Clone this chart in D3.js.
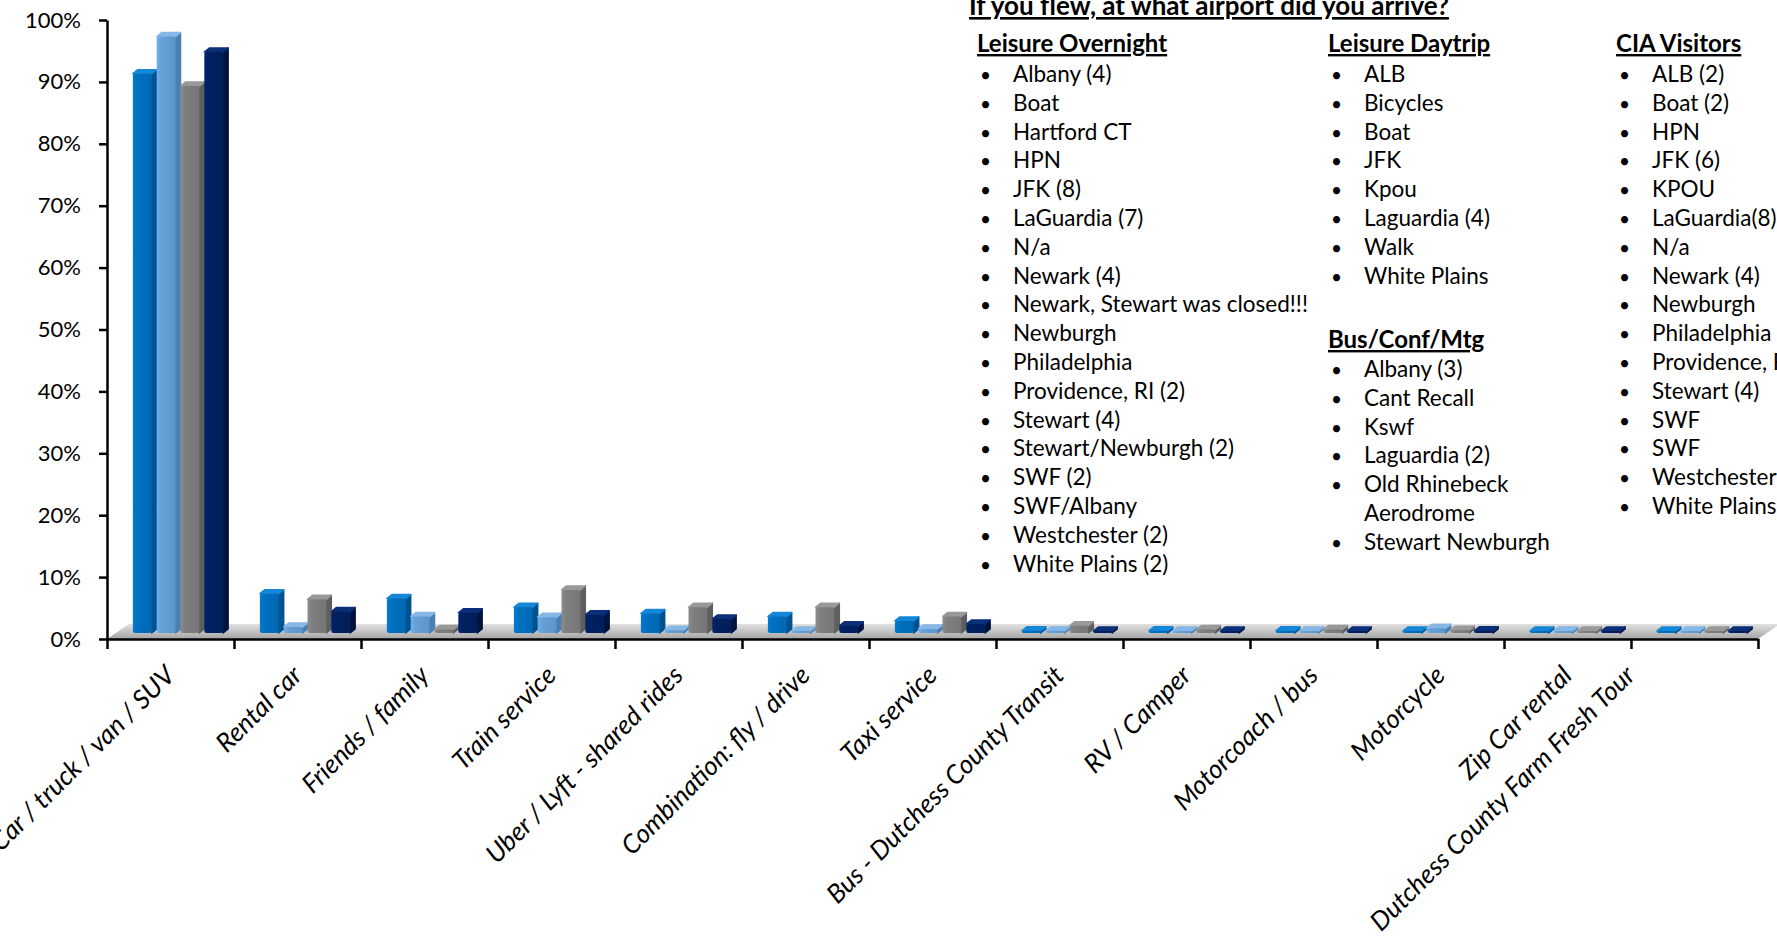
<!DOCTYPE html>
<html>
<head>
<meta charset="utf-8">
<script src="https://cdn.jsdelivr.net/npm/d3@7"></script>
<style>
  body { margin: 0; background: #fff; }
  svg { display: block; overflow: hidden; }
  .axis text { font-family: Lato, "Noto Sans", sans-serif; font-size: 22px; fill: #000; }
  .axis path, .axis line { stroke: #000; stroke-width: 2.5px; }
  .cat-label { font-family: Lato, "Noto Sans", sans-serif; font-size: 26px; font-style: italic; fill: #000; }
  .panel text { font-family: Lato, "Noto Sans", sans-serif; fill: #000; }
</style>
</head>
<body>
<div id="chart"></div>
<script>
// Step 1: data
// =================================
var categories = ["Car / truck / van / SUV", "Rental car", "Friends / family", "Train service",
  "Uber / Lyft - shared rides", "Combination: fly / drive", "Taxi service",
  "Bus - Dutchess County Transit", "RV / Camper", "Motorcoach / bus", "Motorcycle",
  "Zip Car rental", "Dutchess County Farm Fresh Tour"];

var seriesNames = ["Leisure Overnight", "Leisure Daytrip", "Bus/Conf/Mtg", "CIA Visitors"];

var leisureOvernight = [91, 7.0, 6.2, 4.8, 3.8, 3.3, 2.6, 1.0, 1.0, 1.0, 0.6, 0.5, 0.5];
var leisureDaytrip   = [97, 1.6, 3.3, 3.2, 1.1, 0.9, 1.3, 1.0, 0.6, 0.6, 1.4, 0.6, 0.7];
var busConfMtg       = [89, 6.1, 1.2, 7.6, 4.8, 4.8, 3.3, 1.8, 1.2, 1.2, 1.1, 0.3, 0.3];
var ciaVisitors      = [94.5, 4.1, 3.9, 3.6, 2.9, 1.8, 2.1, 0.9, 0.5, 0.5, 1.0, 0.4, 0.4];

var yTicks = [0, 10, 20, 30, 40, 50, 60, 70, 80, 90, 100];

// text panel lists
var panelTitle = "If you flew, at what airport did you arrive?";
var overnightList = ["Albany (4)", "Boat", "Hartford CT", "HPN", "JFK (8)", "LaGuardia (7)", "N/a",
  "Newark (4)", "Newark, Stewart was closed!!!", "Newburgh", "Philadelphia", "Providence, RI (2)",
  "Stewart (4)", "Stewart/Newburgh (2)", "SWF (2)", "SWF/Albany", "Westchester (2)", "White Plains (2)"];
var daytripList = ["ALB", "Bicycles", "Boat", "JFK", "Kpou", "Laguardia (4)", "Walk", "White Plains"];
var busList = ["Albany (3)", "Cant Recall", "Kswf", "Laguardia (2)", "Old Rhinebeck|Aerodrome", "Stewart Newburgh"];
var ciaList = ["ALB (2)", "Boat (2)", "HPN", "JFK (6)", "KPOU", "LaGuardia(8)", "N/a", "Newark (4)",
  "Newburgh", "Philadelphia", "Providence, RI", "Stewart (4)", "SWF", "SWF", "Westchester", "White Plains"];

var seriesValues = [leisureOvernight, leisureDaytrip, busConfMtg, ciaVisitors];
var colors = {
  front: ["#0070c0", "#65a0d8", "#7f7f7f", "#002060"],
  side:  ["#00538f", "#4a7fb3", "#5f5f5f", "#00123d"],
  top:   ["#1487d8", "#86b7e6", "#999999", "#0c2f7a"]
};

// Step 2: chart setup
// =================================
var svgWidth = 1777;
var svgHeight = 936;
var margin = { top: 20, left: 107, bottom: 297 };
var plotRight = 1758;
var height = svgHeight - margin.top - margin.bottom;

var svg = d3.select("#chart").append("svg")
  .attr("width", svgWidth)
  .attr("height", svgHeight);

var defs = svg.append("defs");
var floorGrad = defs.append("linearGradient").attr("id", "floorGrad")
  .attr("x1", 0).attr("y1", 0).attr("x2", 0).attr("y2", 1);
floorGrad.append("stop").attr("offset", "0%").attr("stop-color", "#e2e2e2");
floorGrad.append("stop").attr("offset", "100%").attr("stop-color", "#a4a4a4");

seriesNames.forEach(function (s, i) {
  var g = defs.append("linearGradient").attr("id", "front" + i)
    .attr("x1", 0).attr("y1", 0).attr("x2", 1).attr("y2", 0);
  g.append("stop").attr("offset", "0%").attr("stop-color", d3.color(colors.front[i]).brighter(0.25));
  g.append("stop").attr("offset", "25%").attr("stop-color", colors.front[i]);
  g.append("stop").attr("offset", "100%").attr("stop-color", d3.color(colors.front[i]).darker(0.2));
});

// Step 3: scales
// =================================
var yScale = d3.scaleLinear().domain([0, 100]).range([margin.top + height, margin.top]);
var xScale = d3.scaleBand().domain(categories)
  .range([margin.left, plotRight])
  .paddingInner(0.25).paddingOuter(0.125);
var xSeries = d3.scaleBand().domain(seriesNames).range([0, xScale.bandwidth()]);
var xBounds = d3.scaleLinear().domain([0, categories.length]).range([margin.left, plotRight]);

var y0 = yScale(0);

// floor of the 3d plot
var depth = { dx: 22, dy: -15 };
svg.append("polygon")
  .attr("points", [
    [xBounds(0), y0], [xBounds(categories.length), y0],
    [xBounds(categories.length) + depth.dx, y0 + depth.dy], [xBounds(0) + depth.dx, y0 + depth.dy]
  ].map(function (p) { return p.join(","); }).join(" "))
  .attr("fill", "url(#floorGrad)");

// Step 4: bars
// =================================
var shiftX = 10, baseY = y0 - 6, capDx = 5, capDy = -4;
var barData = [];
categories.forEach(function (c, ci) {
  seriesNames.forEach(function (s, si) {
    barData.push({ cat: c, series: s, si: si, value: seriesValues[si][ci] });
  });
});

var bars = svg.append("g").selectAll("g.bar")
  .data(barData)
  .enter().append("g").attr("class", "bar");

function barGeom(d) {
  var x = xScale(d.cat) + xSeries(d.series) + shiftX;
  var wf = xSeries.bandwidth() - capDx;
  var top = Math.min(yScale(d.value) - 2, baseY - 2);
  return { x: x, wf: wf, top: top };
}

// side face
bars.append("polygon")
  .attr("points", function (d) {
    var g = barGeom(d);
    return [[g.x + g.wf, g.top], [g.x + g.wf + capDx, g.top + capDy],
      [g.x + g.wf + capDx, baseY + capDy], [g.x + g.wf, baseY]].join(" ");
  })
  .attr("fill", function (d) { return colors.side[d.si]; })
  .attr("stroke", function (d) { return colors.side[d.si]; })
  .attr("stroke-width", 1.5)
  .attr("stroke-linejoin", "round");

// top face
bars.append("polygon")
  .attr("points", function (d) {
    var g = barGeom(d);
    return [[g.x, g.top], [g.x + capDx, g.top + capDy],
      [g.x + g.wf + capDx, g.top + capDy], [g.x + g.wf, g.top]].join(" ");
  })
  .attr("fill", function (d) { return colors.top[d.si]; })
  .attr("stroke", function (d) { return colors.top[d.si]; })
  .attr("stroke-width", 1.5)
  .attr("stroke-linejoin", "round");

// front face
bars.append("rect")
  .attr("x", function (d) { return barGeom(d).x; })
  .attr("y", function (d) { return barGeom(d).top; })
  .attr("width", function (d) { return barGeom(d).wf; })
  .attr("height", function (d) { var g = barGeom(d); return Math.max(baseY - g.top, 1); })
  .attr("rx", 2)
  .attr("fill", function (d) { return "url(#front" + d.si + ")"; });

// Step 5: axes
// =================================
var leftAxis = d3.axisLeft(yScale)
  .tickValues(yTicks)
  .tickFormat(function (d) { return d + "%"; })
  .tickSize(8).tickSizeOuter(0).tickPadding(18);

svg.append("g")
  .attr("class", "axis")
  .attr("transform", "translate(" + margin.left + ",0)")
  .call(leftAxis);

var bottomAxis = d3.axisBottom(xBounds)
  .tickValues(d3.range(categories.length + 1))
  .tickFormat("")
  .tickSize(10).tickSizeOuter(0);

svg.append("g")
  .attr("class", "axis")
  .attr("transform", "translate(0," + y0 + ")")
  .call(bottomAxis);

// rotated category labels (the last, long one is pulled left as in the original)
svg.append("g").selectAll("text")
  .data(categories)
  .enter().append("text")
  .attr("class", "cat-label")
  .attr("text-anchor", "end")
  .attr("transform", function (d, i) {
    var pull = i === categories.length - 1 ? -64 : 0;
    return "translate(" + (xScale(d) + xScale.bandwidth() / 2 + 6 + pull) + "," + (y0 + 38) + ") rotate(-45)";
  })
  .text(function (d) { return d; });

// Step 6: text panel
// =================================
var panel = svg.append("g").attr("class", "panel");
var rowH = 28.8;

panel.append("text")
  .attr("x", 969).attr("y", 15)
  .attr("font-size", "26px").attr("font-weight", "bold")
  .style("text-decoration", "underline")
  .text(panelTitle);

function addColumn(header, items, hx, hy, bx, tx, firstY) {
  panel.append("text")
    .attr("x", hx).attr("y", hy)
    .attr("font-size", "24px").attr("font-weight", "bold")
    .style("text-decoration", "underline")
    .text(header);
  var row = 0;
  items.forEach(function (item) {
    var parts = item.split("|");
    panel.append("text").attr("x", bx).attr("y", firstY + row * rowH)
      .attr("font-size", "19px").text("\u2022");
    parts.forEach(function (p) {
      panel.append("text").attr("x", tx).attr("y", firstY + row * rowH)
        .attr("font-size", "22.5px").text(p);
      row++;
    });
  });
}

addColumn("Leisure Overnight", overnightList, 977, 52, 980, 1013, 82);
addColumn("Leisure Daytrip", daytripList, 1328, 52, 1331, 1364, 82);
addColumn("Bus/Conf/Mtg", busList, 1328, 348, 1331, 1364, 377);
addColumn("CIA Visitors", ciaList, 1616, 52, 1619, 1652, 82);
</script>
</body>
</html>
